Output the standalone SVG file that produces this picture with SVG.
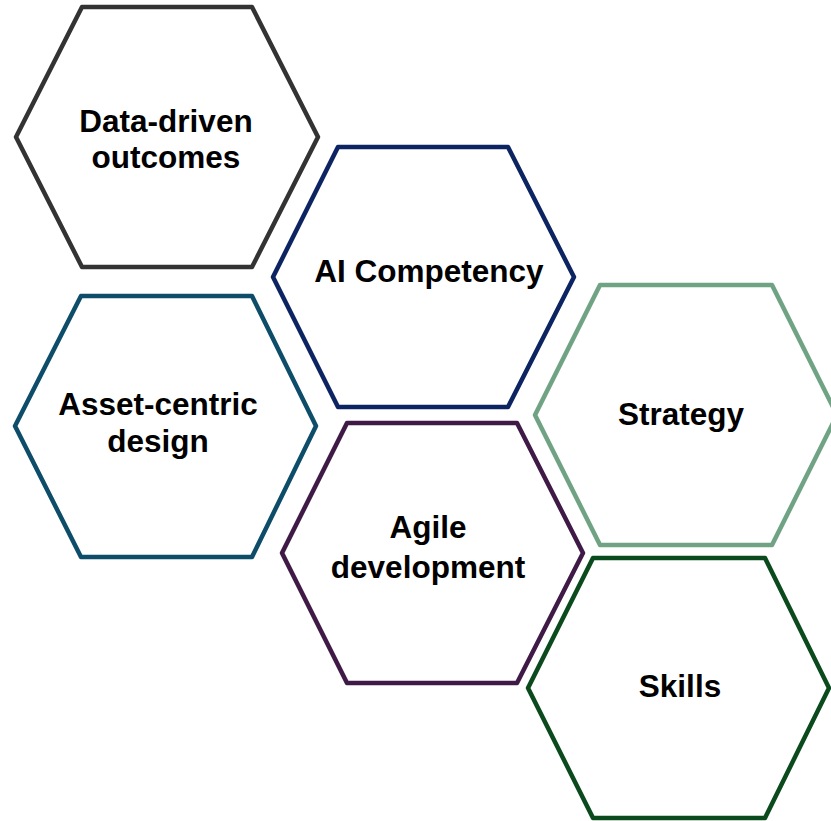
<svg xmlns="http://www.w3.org/2000/svg" width="831" height="821" viewBox="0 0 831 821">
<style>
.hex{fill:#ffffff;stroke-width:4.5;stroke-linejoin:round}
.t{font-family:"Liberation Sans",Arial,sans-serif;font-weight:bold;font-size:31.5px;fill:#000000;text-anchor:middle}
</style>
<rect width="831" height="821" fill="#ffffff"/>
<g id="connectors"/>
<g id="data-driven">
<polygon class="hex" stroke="#333333" points="82,7 252,7 318,137 252,267 82,267 16,137"/>
<text class="t" x="166" y="132">Data-driven</text>
<text class="t" x="166" y="168">outcomes</text>
</g>
<g id="ai-competency">
<polygon class="hex" stroke="#0c2461" points="338,147 508,147 574,277 508,407 338,407 273,277"/>
<text class="t" x="429" y="282">AI Competency</text>
</g>
<g id="asset-centric">
<polygon class="hex" stroke="#0e4d6a" points="81,296 252,296 316,426 252,557 81,557 15,426"/>
<text class="t" x="158" y="415">Asset-centric</text>
<text class="t" x="158" y="452">design</text>
</g>
<g id="strategy">
<polygon class="hex" stroke="#70a383" points="600,285 772,285 837,415 772,545 600,545 535,415"/>
<text class="t" x="681" y="425">Strategy</text>
</g>
<g id="agile">
<polygon class="hex" stroke="#3f1a46" points="347,423 517,423 583,553 517,683 347,683 282,553"/>
<text class="t" x="428" y="538">Agile</text>
<text class="t" x="428" y="578">development</text>
</g>
<g id="skills">
<polygon class="hex" stroke="#0b4a1c" points="593,558 765,558 829,688 765,818 593,818 528,688"/>
<text class="t" x="680" y="697">Skills</text>
</g>
</svg>
